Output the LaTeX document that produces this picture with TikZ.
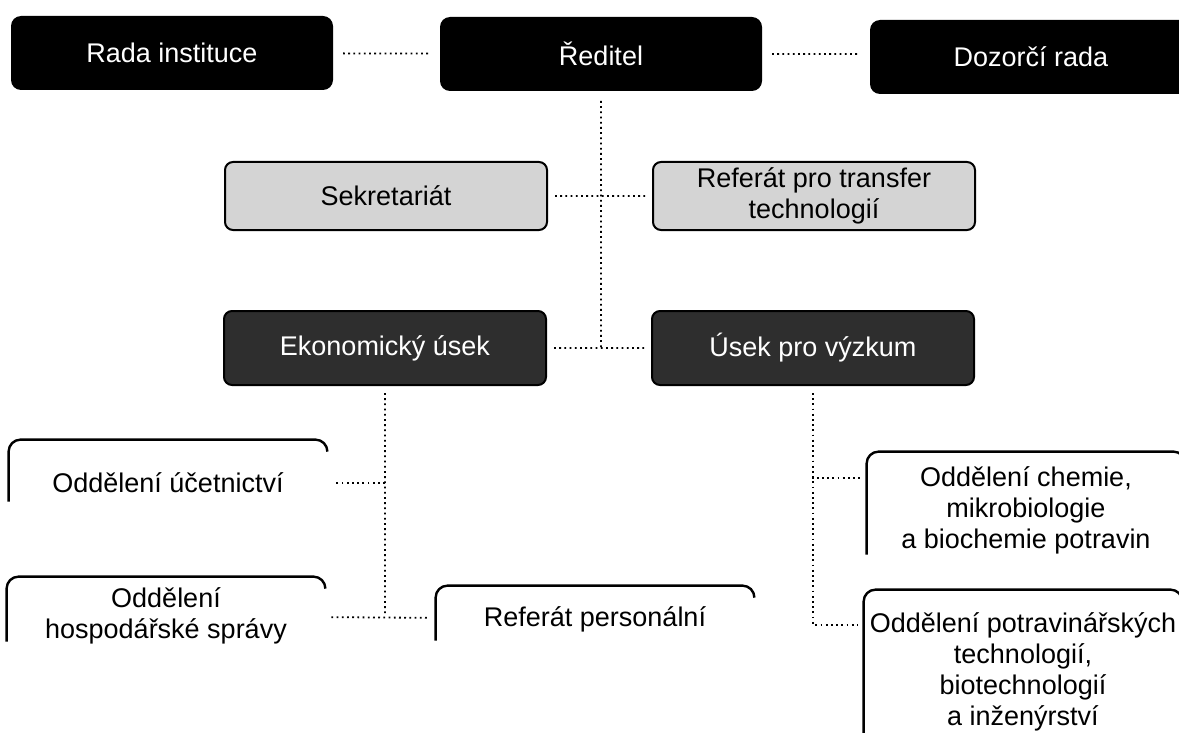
\documentclass[tikz,border=0pt]{standalone}
\usepackage{fontspec}
\setmainfont{Liberation Sans}

\begin{document}
\begin{tikzpicture}[x=0.5pt, y=-0.5pt,
        every node/.style={font=\fontsize{13.5}{15.5}\selectfont, inner sep=0pt, align=center},
        headbox/.style={rectangle, rounded corners=5pt, fill=black, text=white, minimum width=161pt, minimum height=37pt, outer sep=5pt},
        greybox/.style={rectangle, rounded corners=4pt, draw=black, line width=1pt, fill=black!17, minimum width=161pt, minimum height=34pt, outer sep=4pt},
        unitbox/.style={rectangle, rounded corners=4pt, draw=black, line width=1pt, fill=black!82, text=white, minimum width=161pt, minimum height=37pt, outer sep=4pt},
        openbox/.style={rectangle, minimum width=159pt},
        rim/.style={line width=1.2pt, rounded corners=6pt},
        conn/.style={line width=0.9pt, dash pattern=on 0.9pt off 1.7pt}]
        \useasboundingbox (0,0) rectangle (1179,733);

        \node[headbox] (rada) at (172,53) {Rada instituce};
        \node[headbox] (reditel) at (601,54) {Ředitel};
        \node[headbox] (dozor) at (1031,57) {Dozorčí rada};

        \node[greybox] (sekr) at (386,196) {Sekretariát};
        \node[greybox] (transfer) at (814,196) {Referát pro transfer\\technologií};

        \node[unitbox] (ekon) at (385,348) {Ekonomický úsek};
        \node[unitbox] (vyzkum) at (813,348) {Úsek pro výzkum};

        \node[openbox, minimum height=43pt] (ucet) at (168,483) {Oddělení účetnictví};
        \node[openbox, minimum height=39pt] (hosp) at (166,616) {Oddělení\\hospodářské správy};
        \node[openbox, minimum height=33pt] (pers) at (595,619) {Referát personální};
        \node[openbox, minimum height=58pt] (chem) at (1026,510) {Oddělení chemie,\\mikrobiologie\\a biochemie potravin};
        \node[openbox, minimum height=82pt] (potrav) at (1023,672) {Oddělení potravinářských\\technologií,\\biotechnologií\\a inženýrství};

        % frames of the lower boxes, only top and left side
        \draw[rim] ([yshift=-31pt]ucet.north west) -- (ucet.north west) -- (ucet.north east) -- ++(0,12);
        \draw[rim] ([yshift=-32.5pt]hosp.north west) -- (hosp.north west) -- (hosp.north east) -- ++(0,12);
        \draw[rim] ([yshift=-27.5pt]pers.north west) -- (pers.north west) -- (pers.north east) -- ++(0,12);
        \draw[rim] ([yshift=-51.5pt]chem.north west) -- (chem.north west) -- (chem.north east) -- ++(0,12);
        \draw[rim] (potrav.south west) -- (potrav.north west) -- (potrav.north east) -- ++(0,12);

        \draw[conn] (rada) -- (reditel)
            (reditel.east) -- (reditel.east -| dozor.west)
            (reditel) -- (reditel |- ekon)
            (sekr) -- (transfer)
            (ekon) -- (vyzkum)
            (ekon) -- (ekon |- hosp);
        \draw[conn, shorten >=3pt] (ekon |- ucet) -- (ucet);
        \draw[conn, shorten <=3pt, shorten >=3pt] (hosp) -- (pers);
        \draw[conn, shorten >=3pt] (vyzkum) |- ([yshift=-13pt]chem.north west);
        \draw[conn, shorten >=3pt] (vyzkum) |- ([yshift=-17.5pt]potrav.north west);
\end{tikzpicture}
\end{document}
